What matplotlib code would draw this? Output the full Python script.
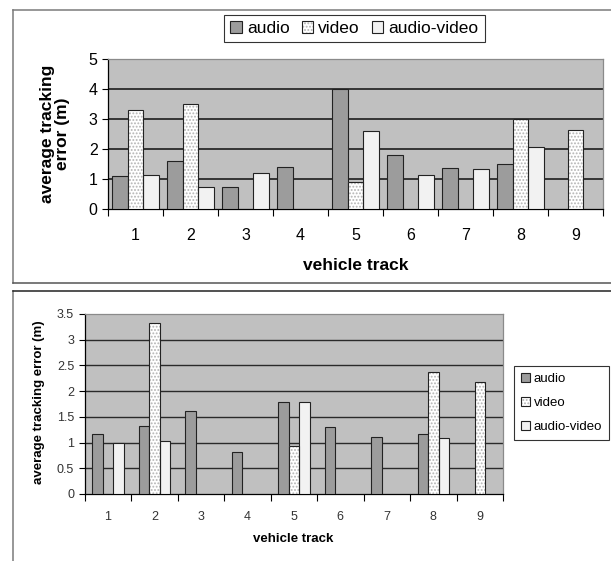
import numpy as np
import matplotlib
matplotlib.use('Agg')
import matplotlib.pyplot as plt
from matplotlib.lines import Line2D

plt.rcParams['font.family'] = ['Liberation Sans', 'DejaVu Sans']
plt.rcParams['hatch.linewidth'] = 0.9

tracks = ['1', '2', '3', '4', '5', '6', '7', '8', '9']
series = ['audio', 'video', 'audio-video']

# top chart values (NaN = no bar)
top_audio = [1.1, 1.6, 0.75, 1.4, 4.0, 1.8, 1.38, 1.5, np.nan]
top_video = [3.3, 3.5, np.nan, np.nan, 0.9, np.nan, np.nan, 3.0, 2.64]
top_av = [1.12, 0.75, 1.2, np.nan, 2.6, 1.12, 1.35, 2.08, np.nan]

# bottom chart values
bot_audio = [1.17, 1.32, 1.61, 0.82, 1.79, 1.3, 1.1, 1.17, np.nan]
bot_video = [np.nan, 3.32, np.nan, np.nan, 0.93, np.nan, np.nan, 2.37, 2.18]
bot_av = [1.0, 1.03, np.nan, np.nan, 1.79, np.nan, np.nan, 1.08, np.nan]

W, H = 611, 561


def fx(px):
	return px / W


def fy(py):
	return 1 - py / H


def draw_bars(ax, audio, video, av, width):
	''' three bars per track, returns legend handles '''
	x = np.arange(1, len(tracks) + 1)
	b_a = ax.bar(x - width, audio, width, color='#9c9c9c', edgecolor='#222222', linewidth=0.8, zorder=3)
	# dotted fill for video, then the outline on top
	b_vf = ax.bar(x, video, width, color='white', hatch='.....', edgecolor='#b4b4b4', linewidth=0, zorder=3)
	b_vo = ax.bar(x, video, width, fill=False, edgecolor='#222222', linewidth=0.8, zorder=4)
	b_av = ax.bar(x + width, av, width, color='#f2f2f2', edgecolor='#222222', linewidth=0.8, zorder=3)
	return [b_a[0], (b_vf[1], b_vo[1]), b_av[0]]


def style_axes(ax, ymax, ystep, tick_size, grid_lw):
	ax.set_facecolor('#c0c0c0')
	ax.set_xlim(0.5, len(tracks) + 0.5)
	ax.set_ylim(0, ymax)
	yt = np.arange(0, ymax + ystep / 2, ystep)
	ax.set_yticks(yt)
	ax.set_yticklabels(['%g' % v for v in yt])
	for v in yt[1:-1]:
		ax.axhline(v, color='#2a2a2a', linewidth=grid_lw, zorder=1)
	ax.set_xticks(np.arange(0.5, len(tracks) + 1, 1))
	ax.set_xticklabels([])
	ax.set_xticks(np.arange(1, len(tracks) + 1), minor=True)
	ax.set_xticklabels(tracks, minor=True)
	ax.tick_params(axis='x', which='major', direction='out', length=5, width=0.8, color='black')
	ax.tick_params(axis='x', which='minor', length=0, labelsize=tick_size)
	ax.tick_params(axis='y', direction='out', length=4, width=0.8, labelsize=tick_size)
	for s in ['left', 'bottom']:
		ax.spines[s].set_color('black')
		ax.spines[s].set_linewidth(0.9)
	for s in ['top', 'right']:
		ax.spines[s].set_color('#8a8a8a')
		ax.spines[s].set_linewidth(0.9)


fig = plt.figure(figsize=(6.11, 5.61), dpi=100)

# frames around the two charts
grey = '#7a7a7a'
fig.add_artist(Line2D([fx(13), fx(13)], [fy(10), fy(283)], color=grey, lw=1.1))
fig.add_artist(Line2D([fx(13), 1], [fy(10), fy(10)], color=grey, lw=1.1))
fig.add_artist(Line2D([fx(13), 1], [fy(283), fy(283)], color='#555555', lw=1.1))
fig.add_artist(Line2D([fx(13), fx(13)], [fy(291), 0], color=grey, lw=1.1))
fig.add_artist(Line2D([fx(13), 1], [fy(291), fy(291)], color='#222222', lw=1.1))

# top chart
ax1 = fig.add_axes([fx(108), fy(209), fx(603) - fx(108), fy(59) - fy(209)])
handles = draw_bars(ax1, top_audio, top_video, top_av, 0.283)
style_axes(ax1, 5, 1, 11.5, 1.3)
ax1.tick_params(axis='x', which='minor', pad=14)
fig.text(fx(55), fy(134), 'average tracking\nerror (m)', rotation=90, ha='center', va='center',
	fontsize=12.5, fontweight='bold', linespacing=1.0)
fig.text(fx(356), fy(265), 'vehicle track', ha='center', va='center', fontsize=12.5, fontweight='bold')
leg1 = fig.legend(handles, series, loc='center', ncol=3,
	bbox_to_anchor=(fx(354.5), fy(28.5)), fontsize=12.5, frameon=True, fancybox=False,
	edgecolor='black', handlelength=0.65, handleheight=0.65, handletextpad=0.3,
	columnspacing=0.7, borderpad=0.35)
leg1.get_frame().set_linewidth(0.8)

# bottom chart
ax2 = fig.add_axes([fx(84.6), fy(494), fx(503) - fx(84.6), fy(314) - fy(494)])
handles = draw_bars(ax2, bot_audio, bot_video, bot_av, 0.226)
style_axes(ax2, 3.5, 0.5, 9, 1.0)
ax2.tick_params(axis='x', which='minor', pad=12)
for t in ax2.get_xticklabels(minor=True) + ax2.get_yticklabels():
	t.set_color('#333333')
fig.text(fx(39), fy(402), 'average tracking error (m)', rotation=90, ha='center', va='center',
	fontsize=9.5, fontweight='bold')
fig.text(fx(293), fy(539), 'vehicle track', ha='center', va='center', fontsize=9.5, fontweight='bold')
leg2 = fig.legend(handles, series, loc='center',
	bbox_to_anchor=(fx(561.5), fy(403)), fontsize=9.5, frameon=True, fancybox=False,
	edgecolor='black', handlelength=0.65, handleheight=0.65, handletextpad=0.3,
	labelspacing=0.9, borderpad=0.5)
leg2.get_frame().set_linewidth(0.8)

fig.savefig('out.png', dpi=100)
